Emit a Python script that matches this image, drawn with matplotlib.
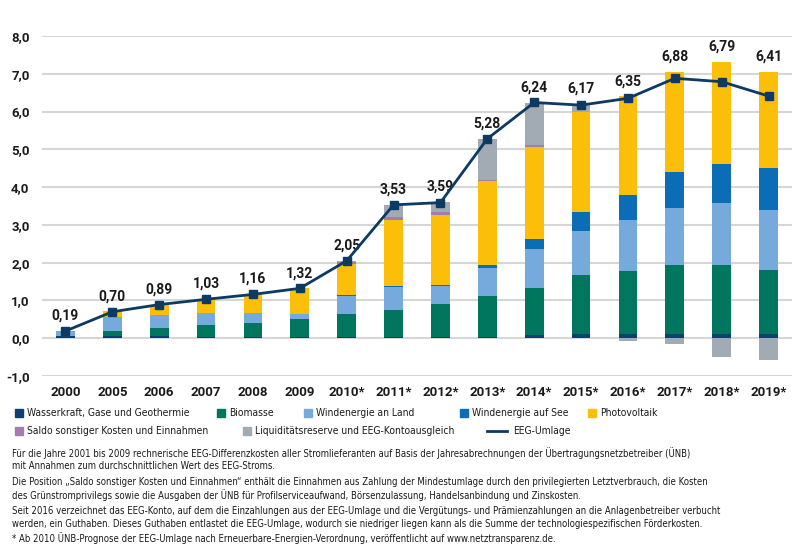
import numpy as np
import matplotlib
matplotlib.use("Agg")
import matplotlib.pyplot as plt
from matplotlib import font_manager as fm
from matplotlib.patches import Rectangle
from matplotlib.lines import Line2D

# ---------------- data ----------------
years = ['2000', '2005', '2006', '2007', '2008', '2009', '2010*', '2011*', '2012*',
         '2013*', '2014*', '2015*', '2016*', '2017*', '2018*', '2019*']
wasserkraft = [0.07, 0.05, 0.05, 0.04, 0.04, 0.03, 0.02, 0.02, 0.03, 0.03, 0.08, 0.11, 0.11, 0.12, 0.11, 0.10]
biomasse    = [0.00, 0.13, 0.21, 0.30, 0.36, 0.48, 0.61, 0.74, 0.87, 1.10, 1.26, 1.56, 1.67, 1.81, 1.82, 1.71]
wind_land   = [0.11, 0.37, 0.35, 0.33, 0.28, 0.14, 0.49, 0.59, 0.47, 0.74, 1.01, 1.17, 1.35, 1.53, 1.65, 1.58]
wind_see    = [0.00, 0.00, 0.00, 0.00, 0.00, 0.00, 0.02, 0.04, 0.04, 0.07, 0.28, 0.50, 0.67, 0.93, 1.02, 1.12]
photovolt   = [0.00, 0.16, 0.28, 0.36, 0.49, 0.67, 0.82, 1.75, 1.86, 2.22, 2.44, 2.66, 2.60, 2.65, 2.72, 2.53]
saldo       = [0.00, 0.00, 0.00, 0.00, 0.00, 0.00, 0.05, 0.07, 0.06, 0.03, 0.05, 0.00, 0.00, 0.00, 0.00, 0.00]
liquiditaet = [0.00, 0.00, 0.00, 0.00, 0.00, 0.00, 0.03, 0.31, 0.27, 1.08, 1.10, 0.20, -0.07, -0.15, -0.49, -0.57]
umlage      = [0.19, 0.70, 0.89, 1.03, 1.16, 1.32, 2.05, 3.53, 3.59, 5.28, 6.24, 6.17, 6.35, 6.88, 6.79, 6.41]
umlage_labels = ['0,19', '0,70', '0,89', '1,03', '1,16', '1,32', '2,05', '3,53', '3,59',
                 '5,28', '6,24', '6,17', '6,35', '6,88', '6,79', '6,41']
y_ticks = [-1, 0, 1, 2, 3, 4, 5, 6, 7, 8]
y_tick_labels = ['-1,0', '0,0', '1,0', '2,0', '3,0', '4,0', '5,0', '6,0', '7,0', '8,0']

series_names = ['Wasserkraft, Gase und Geothermie', 'Biomasse', 'Windenergie an Land',
                'Windenergie auf See', 'Photovoltaik', 'Saldo sonstiger Kosten und Einnahmen',
                'Liquiditätsreserve und EEG-Kontoausgleich']
line_name = 'EEG-Umlage'

footnotes = [
    "Für die Jahre 2001 bis 2009 rechnerische EEG-Differenzkosten aller Stromlieferanten auf Basis der Jahresabrechnungen der Übertragungsnetzbetreiber (ÜNB)",
    "mit Annahmen zum durchschnittlichen Wert des EEG-Stroms.",
    "Die Position \u201eSaldo sonstiger Kosten und Einnahmen\u201c enthält die Einnahmen aus Zahlung der Mindestumlage durch den privilegierten Letztverbrauch, die Kosten",
    "des Grünstromprivilegs sowie die Ausgaben der ÜNB für Profilserviceaufwand, Börsenzulassung, Handelsanbindung und Zinskosten.",
    "Seit 2016 verzeichnet das EEG-Konto, auf dem die Einzahlungen aus der EEG-Umlage und die Vergütungs- und Prämienzahlungen an die Anlagenbetreiber verbucht",
    "werden, ein Guthaben. Dieses Guthaben entlastet die EEG-Umlage, wodurch sie niedriger liegen kann als die Summe der technologiespezifischen Förderkosten.",
    "* Ab 2010 ÜNB-Prognose der EEG-Umlage nach Erneuerbare-Energien-Verordnung, veröffentlicht auf www.netztransparenz.de.",
]

# ---------------- styles ----------------
colors = ['#0e3f6e', '#00765e', '#76aadc', '#0a6db5', '#fbbf0a', '#a57cb0', '#a2aab3']
line_color = '#0d3a62'
grid_color = '#d6d6d6'
text_color = '#1a1a1a'


def font_ok(family, stretch='normal', must_contain=None):
    try:
        p = fm.findfont(fm.FontProperties(family=family, stretch=stretch),
                        fallback_to_default=False)
        if must_contain and must_contain.lower() not in p.lower():
            return False
        return True
    except Exception:
        return False


if font_ok('DejaVu Sans', 'condensed', 'condensed'):
    narrow = dict(family='DejaVu Sans', stretch='condensed')
elif font_ok('DejaVu Sans Condensed'):
    narrow = dict(family='DejaVu Sans Condensed')
elif font_ok('Liberation Sans Narrow'):
    narrow = dict(family='Liberation Sans Narrow')
else:
    narrow = dict(family='Roboto' if font_ok('Roboto') else 'DejaVu Sans')
main_font = 'Roboto' if font_ok('Roboto') else 'DejaVu Sans'

fig = plt.figure(figsize=(8, 5.5), dpi=100)
W, H = 800, 550
ax = fig.add_axes([42 / W, 1 - 376 / H, (792 - 42) / W, (376 - 36) / H])

x = np.arange(len(years))
width = 0.40

pos_series = [wasserkraft, biomasse, wind_land, wind_see, photovolt, saldo]
bottom = np.zeros(len(years))
for vals, c in zip(pos_series, colors[:6]):
    v = np.array(vals)
    ax.bar(x, v, width, bottom=bottom, color=c, zorder=2, linewidth=0)
    bottom = bottom + v
liq = np.array(liquiditaet)
liq_bottom = np.where(liq >= 0, bottom, 0.0)
ax.bar(x, liq, width, bottom=liq_bottom, color=colors[6], zorder=2, linewidth=0)
top = bottom + np.clip(liq, 0, None)

ax.plot(x, umlage, color=line_color, lw=2, marker='s', markersize=5.5, zorder=4)

for xi, u, t, lab in zip(x, umlage, top, umlage_labels):
    ax.annotate(lab, (xi, max(u, t)), xytext=(0, 11), textcoords='offset points',
                ha='center', va='center', fontsize=10, fontweight='bold',
                color=text_color, family=main_font)

ax.set_xlim(-0.5, len(years) - 0.5)
ax.set_ylim(-1, 8)
ax.set_yticks(y_ticks)
ax.set_yticklabels(y_tick_labels)
ax.set_xticks(x)
ax.set_xticklabels(years)
for lab in ax.get_xticklabels() + ax.get_yticklabels():
    lab.set_family(main_font)
    lab.set_fontweight('bold')
    lab.set_fontsize(9.5)
    lab.set_color(text_color)
ax.tick_params(axis='both', length=0)
ax.tick_params(axis='x', pad=7)
ax.tick_params(axis='y', pad=9)
ax.grid(axis='y', color=grid_color, lw=1.5, zorder=0)
ax.set_axisbelow(True)
for s in ax.spines.values():
    s.set_visible(False)

renderer = fig.canvas.get_renderer()


def fit_size(sample_texts, targets_px, base=10):
    """Return a common font size so that sample texts get about the target widths."""
    sizes = []
    for s, tw in zip(sample_texts, targets_px):
        t = fig.text(0, 0, s, fontsize=base, **narrow)
        w = t.get_window_extent(renderer).width
        t.remove()
        sizes.append(base * tw / w)
    return min(sizes)


# ---------------- legend (manual) ----------------
leg_fs = fit_size([series_names[0], series_names[6]], [162, 201])
sq = 8
legend_items = [
    (15, 413, 0), (217, 413, 1), (304, 413, 2), (460, 413, 3), (588, 413, 4),
    (15, 431, 5), (243, 431, 6),
]
for lx, ly, i in legend_items:
    fig.patches.append(Rectangle((lx / W, 1 - (ly + sq / 2) / H), sq / W, sq / H,
                                 transform=fig.transFigure, color=colors[i]))
    fig.text((lx + sq + 4) / W, 1 - ly / H, series_names[i], fontsize=leg_fs,
             va='center', ha='left', color=text_color, **narrow)
fig.lines.append(Line2D([487 / W, 507 / W], [1 - 431 / H, 1 - 431 / H],
                        transform=fig.transFigure, color=line_color, lw=2))
fig.text(513 / W, 1 - 431 / H, line_name, fontsize=leg_fs,
         va='center', ha='left', color=text_color, **narrow)

# ---------------- footnotes ----------------
foot_fs = fit_size([footnotes[0], footnotes[4]], [680, 766])
foot_y = [453, 466, 482, 495, 511, 524, 538]
for fy, t in zip(foot_y, footnotes):
    fig.text(12 / W, 1 - fy / H, t, fontsize=foot_fs, va='center',
             ha='left', color=text_color, **narrow)

fig.savefig('out.png', dpi=100, facecolor='white')
